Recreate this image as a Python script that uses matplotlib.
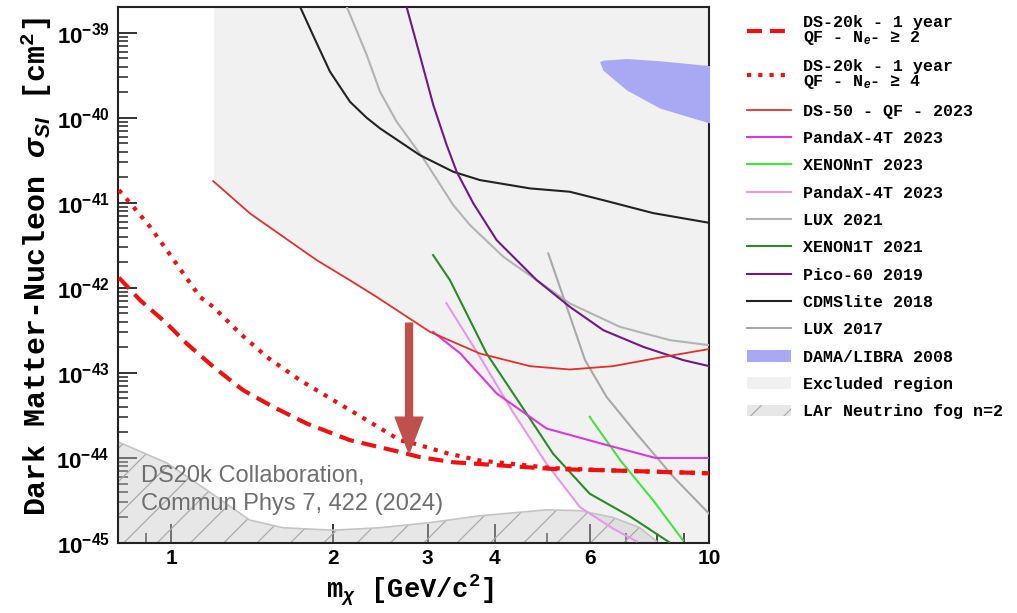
import numpy as np
import matplotlib
matplotlib.use("Agg")
import matplotlib.pyplot as plt
from matplotlib.lines import Line2D
from matplotlib.patches import Patch
from matplotlib.ticker import FixedLocator, FixedFormatter, LogLocator, NullFormatter
from matplotlib.font_manager import FontProperties

plt.rcParams['mathtext.fontset'] = 'custom'
plt.rcParams['mathtext.rm'] = 'Liberation Mono:bold'
plt.rcParams['mathtext.it'] = 'Liberation Sans:italic:bold'
plt.rcParams['mathtext.bf'] = 'Liberation Sans:bold'
plt.rcParams['hatch.linewidth'] = 0.9

# ---------------- data (mass in GeV/c^2, log10 of cross-section in cm^2) ----------------
ds20k_ne2_m = [0.80, 0.876, 0.982, 1.069, 1.199, 1.362, 1.549, 1.787, 2.148, 2.664, 2.90, 3.34, 4.14, 5.13, 6.84, 10.0]
ds20k_ne2_logs = [-41.88, -42.145, -42.419, -42.654, -42.929, -43.204, -43.40, -43.595, -43.79, -43.93, -43.99, -44.05, -44.09, -44.13, -44.15, -44.18]

ds20k_ne4_m = [0.80, 0.851, 0.914, 0.982, 1.054, 1.132, 1.198, 1.344, 1.506, 1.737, 2.003, 2.312, 2.664, 2.818, 3.26, 3.75, 5.13, 6.84, 10.0]
ds20k_ne4_logs = [-40.85, -41.047, -41.282, -41.556, -41.831, -42.106, -42.224, -42.536, -42.812, -43.086, -43.321, -43.556, -43.792, -43.827, -43.945, -44.03, -44.12, -44.15, -44.18]

ds50_m = [1.198, 1.402, 1.617, 1.865, 2.148, 2.41, 3.03, 3.75, 4.65, 5.51, 6.63, 8.22, 10.0]
ds50_logs = [-40.745, -41.125, -41.40, -41.674, -41.909, -42.106, -42.518, -42.772, -42.921, -42.96, -42.921, -42.812, -42.72]

pandax_m = [3.07, 3.45, 4.03, 4.99, 6.3, 7.95, 10.0]
pandax_logs = [-42.518, -42.772, -43.242, -43.654, -43.83, -44.0, -44.0]

xenonnt_m = [6.0, 6.84, 7.87, 8.95]
xenonnt_logs = [-43.516, -44.027, -44.497, -44.97]

pandax2_m = [3.25, 3.75, 4.32, 4.99, 5.76, 6.63, 7.33]
pandax2_logs = [-42.18, -42.81, -43.46, -44.07, -44.58, -44.83, -44.98]

lux2021_m = [2.121, 2.311, 2.446, 2.627, 2.944, 3.347, 3.595, 4.147, 4.783, 5.515, 6.832, 8.46, 10.0]
lux2021_logs = [-38.694, -39.262, -39.694, -40.047, -40.478, -41.027, -41.262, -41.635, -41.909, -42.184, -42.459, -42.615, -42.674]

xenon1t_m = [3.07, 3.30, 3.86, 4.58, 5.13, 6.0, 7.14, 8.43]
xenon1t_logs = [-41.615, -41.91, -42.772, -43.478, -43.95, -44.42, -44.69, -44.99]

pico_m = [2.74, 2.90, 3.073, 3.254, 3.396, 3.647, 4.03, 4.783, 5.515, 6.362, 7.549, 8.96, 10.0]
pico_logs = [-38.694, -39.262, -39.851, -40.321, -40.635, -41.007, -41.439, -41.909, -42.224, -42.498, -42.694, -42.85, -42.92]

cdms_m = [1.737, 1.866, 1.975, 2.151, 2.31, 2.446, 2.90, 3.347, 3.752, 4.65, 5.51, 6.35, 7.87, 10.0]
cdms_logs = [-38.694, -39.125, -39.459, -39.812, -40.0, -40.125, -40.439, -40.635, -40.733, -40.831, -40.87, -40.968, -41.121, -41.235]

lux2017_m = [5.026, 5.44, 5.884, 6.45, 7.33, 8.59, 10.0]
lux2017_logs = [-41.595, -42.224, -42.851, -43.282, -43.713, -44.224, -44.654]

dama_top_m = [6.26, 6.53, 8.1, 10.0, 11.5]
dama_top_logs = [-39.34, -39.29, -39.33, -39.386, -39.42]
dama_bot_m = [6.26, 6.35, 7.03, 8.1, 10.0, 11.5]
dama_bot_logs = [-39.34, -39.44, -39.674, -39.886, -40.06, -40.16]

fog_m = [0.797, 0.983, 1.167, 1.40, 1.615, 2.0, 2.445, 3.03, 3.75, 4.99, 5.76, 6.63, 7.44, 7.99]
fog_logs = [-43.81, -44.06, -44.38, -44.73, -44.82, -44.85, -44.82, -44.76, -44.68, -44.61, -44.62, -44.70, -44.82, -44.98]

excluded_start_m = 1.2

arrow_m = 2.77
arrow_logs = [-42.415, -43.945]

xtick_vals = [1, 2, 3, 4, 6, 10]
xtick_labels = ['1', '2', '3', '4', '6', '10']
xminor_vals = [0.9, 5, 7, 8, 9]
ytick_exps = [-45, -44, -43, -42, -41, -40, -39]

XMIN, XMAX = 0.797, 10.0
YMIN_LOG, YMAX_LOG = -45.0, -38.698

# ---------------- figure ----------------
fig = plt.figure(figsize=(10.17, 6.13), dpi=100)
ax = fig.add_axes([118/1017, 1-543/613, 591/1017, 536/613])
ax.set_xscale('log')
ax.set_yscale('log')
ax.set_xlim(XMIN, XMAX)
ax.set_ylim(10**YMIN_LOG, 10**YMAX_LOG)

def lin(v):
    return 10**np.asarray(v, dtype=float)

# excluded region: lower envelope of all limits
grid = np.logspace(np.log10(excluded_start_m), 1.0, 1200)
lg = np.log10(grid)
curves = [(ds50_m, ds50_logs, False), (pandax_m, pandax_logs, False), (pandax2_m, pandax2_logs, True),
          (xenon1t_m, xenon1t_logs, True), (xenonnt_m, xenonnt_logs, True), (lux2021_m, lux2021_logs, False),
          (lux2017_m, lux2017_logs, False), (pico_m, pico_logs, False), (cdms_m, cdms_logs, False)]
env = np.full_like(grid, np.inf)
for m, l, exits_bottom in curves:
    lm = np.log10(m)
    vals = np.interp(lg, lm, l)
    vals[(lg < lm[0]) | (lg > lm[-1])] = np.inf
    if exits_bottom:
        vals[lg > lm[-1]] = -46.0
    env = np.minimum(env, vals)
env = np.minimum(env, YMAX_LOG)
env = np.maximum(env, YMIN_LOG - 0.5)
ax.fill_between(grid, 10**env, 10**YMAX_LOG, color='#f1f1f1', lw=0, zorder=1)

# neutrino fog
fog_face = (0.78, 0.78, 0.78, 0.42)
ax.fill_between(fog_m, 10**(YMIN_LOG - 0.5), lin(fog_logs), facecolor=fog_face,
                edgecolor='#aaaaaa', hatch='/', lw=0, zorder=2)
ax.plot(fog_m, lin(fog_logs), color='#c4c4c4', lw=1.2, zorder=2)

# DAMA
ax.fill_between(dama_bot_m, lin(dama_bot_logs),
                lin(np.interp(np.log10(dama_bot_m), np.log10(dama_top_m), dama_top_logs)),
                color='#a9a9f3', lw=0, zorder=3)

lw = 1.5
ax.plot(lux2021_m, lin(lux2021_logs), color='#b3b3b3', lw=lw, zorder=4)
ax.plot(lux2017_m, lin(lux2017_logs), color='#a8a8a8', lw=lw, zorder=4)
ax.plot(cdms_m, lin(cdms_logs), color='#222222', lw=lw, zorder=4)
ax.plot(pico_m, lin(pico_logs), color='#6e1a82', lw=lw, zorder=4)
ax.plot(xenon1t_m, lin(xenon1t_logs), color='#2a8a2a', lw=lw, zorder=4)
ax.plot(pandax2_m, lin(pandax2_logs), color='#e49ae4', lw=lw, zorder=4)
ax.plot(xenonnt_m, lin(xenonnt_logs), color='#44e044', lw=lw, zorder=4)
ax.plot(pandax_m, lin(pandax_logs), color='#d83ad8', lw=lw, zorder=4)
ax.plot(ds50_m, lin(ds50_logs), color='#e03030', lw=1.3, zorder=5)
ax.plot(ds20k_ne4_m, lin(ds20k_ne4_logs), color='#ee1111', lw=3.0, ls=(0, (1, 1.7)), zorder=6)
ax.plot(ds20k_ne2_m, lin(ds20k_ne2_logs), color='#ee1111', lw=3.0, ls=(0, (3.6, 1.9)), zorder=6)

ax.annotate('', xy=(arrow_m, 10**arrow_logs[1]), xytext=(arrow_m, 10**arrow_logs[0]),
            arrowprops=dict(arrowstyle='simple,head_length=1.3,head_width=1.0,tail_width=0.25',
                            color='#c0504d', shrinkA=0, shrinkB=0, mutation_scale=20), zorder=7)

ax.text(0.039, 0.146, 'DS20k Collaboration,\nCommun Phys 7, 422 (2024)', transform=ax.transAxes,
        ha='left', va='top', fontsize=17, color='#6e6e6e', family='Liberation Sans', zorder=8,
        linespacing=1.36)

# ticks
ax.xaxis.set_major_locator(FixedLocator(xtick_vals))
ax.xaxis.set_major_formatter(FixedFormatter(xtick_labels))
ax.xaxis.set_minor_locator(FixedLocator(xminor_vals))
ax.xaxis.set_minor_formatter(NullFormatter())
ax.yaxis.set_major_locator(FixedLocator([10.0**e for e in ytick_exps]))
ax.yaxis.set_major_formatter(FixedFormatter([r'$\mathbf{10^{%d}}$' % e for e in ytick_exps]))
ax.yaxis.set_minor_locator(LogLocator(base=10, subs=np.arange(2, 10), numticks=50))
ax.yaxis.set_minor_formatter(NullFormatter())
ax.tick_params(which='major', direction='in', length=14, width=1.3, top=False, right=False, color='#222222')
ax.tick_params(which='minor', direction='in', length=7, width=1.1, top=False, right=False, color='#222222')
ax.tick_params(axis='y', which='major', pad=6, labelsize=16)
ax.tick_params(axis='x', which='major', pad=4)
for t in ax.get_xticklabels():
    t.set_fontfamily('Liberation Sans')
    t.set_fontweight('bold')
    t.set_fontsize(15)
for s in ax.spines.values():
    s.set_linewidth(1.5)
    s.set_color('#222222')

fig.text(36/1017, 1-267/613, r'Dark Matter-Nucleon $\mathit{σ}_{\mathit{SI}}$ [cm$^{\mathrm{2}}$]',
         rotation=90, ha='center', va='center', fontsize=21.5, family='Liberation Mono', weight='bold')
fig.text(410/1017, 1-590/613, r'm$_{\mathit{χ}}$ [GeV/c$^{\mathrm{2}}$]',
         ha='center', va='center', fontsize=19.5, family='Liberation Mono', weight='bold')

# legend
handles = [
    Line2D([], [], color='#ee1111', lw=3.0, ls=(0, (3.6, 1.9))),
    Line2D([], [], color='#ee1111', lw=3.0, ls=(0, (1, 1.7))),
    Line2D([], [], color='#e03030', lw=1.3),
    Line2D([], [], color='#d83ad8', lw=lw),
    Line2D([], [], color='#44e044', lw=lw),
    Line2D([], [], color='#e49ae4', lw=lw),
    Line2D([], [], color='#b3b3b3', lw=lw),
    Line2D([], [], color='#2a8a2a', lw=lw),
    Line2D([], [], color='#6e1a82', lw=lw),
    Line2D([], [], color='#222222', lw=lw),
    Line2D([], [], color='#a8a8a8', lw=lw),
    Patch(facecolor='#a9a9f3', lw=0),
    Patch(facecolor='#f1f1f1', lw=0),
    Patch(facecolor=fog_face, edgecolor='#aaaaaa', hatch='/', lw=0),
]
labels = [
    'DS-20k - 1 year\nQF - N$_{\\mathit{e}}$- ≥ 2',
    'DS-20k - 1 year\nQF - N$_{\\mathit{e}}$- ≥ 4',
    'DS-50 - QF - 2023',
    'PandaX-4T 2023',
    'XENONnT 2023',
    'PandaX-4T 2023',
    'LUX 2021',
    'XENON1T 2021',
    'Pico-60 2019',
    'CDMSlite 2018',
    'LUX 2017',
    'DAMA/LIBRA 2008',
    'Excluded region',
    'LAr Neutrino fog n=2',
]
prop = FontProperties(family=['Liberation Mono', 'DejaVu Sans Mono'], weight='bold', size=12)
leg = fig.legend(handles, labels, loc='upper left', bbox_to_anchor=(747/1017, 1-15/613),
                 frameon=False, prop=prop, handlelength=2.65, handletextpad=0.72,
                 labelspacing=0.74, borderpad=0, borderaxespad=0)
for t in leg.get_texts():
    t.set_linespacing(0.92)

fig.savefig('out.png', dpi=100)
